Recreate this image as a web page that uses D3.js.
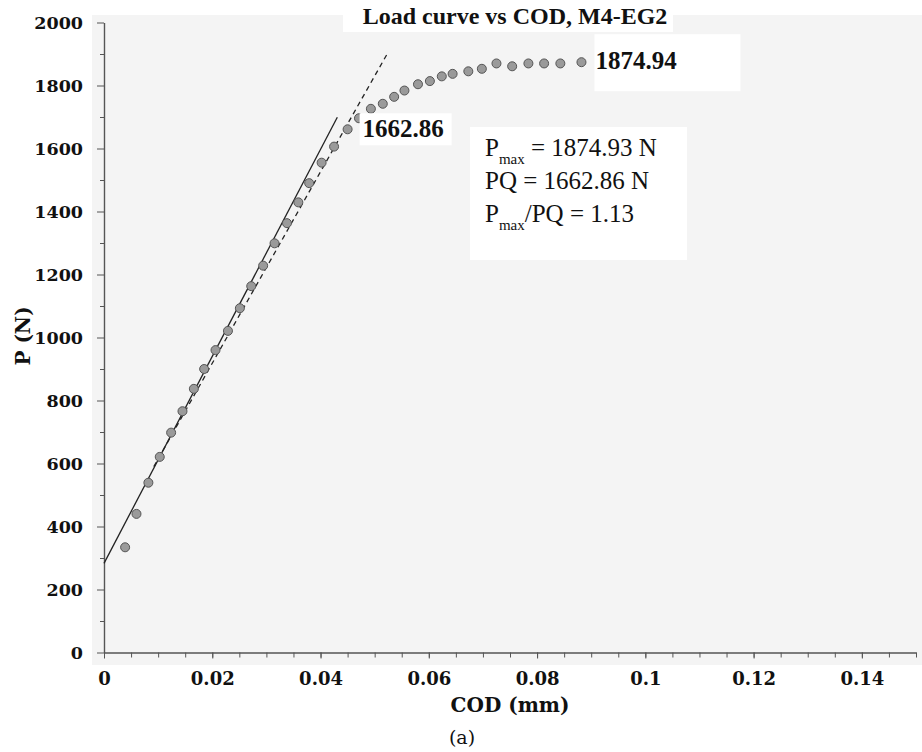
<!DOCTYPE html>
<html>
<head>
<meta charset="utf-8">
<script src="https://cdn.jsdelivr.net/npm/d3@7"></script>
<style>
  body { margin: 0; background: #fff; }
  svg { display: block; }
</style>
</head>
<body>
<svg id="chart" width="922" height="752"></svg>
<script>
// ---- data ----
const codValues = [0.0039, 0.0060, 0.0082, 0.0103, 0.0124, 0.0145, 0.0166, 0.0185, 0.0206, 0.0229,
                   0.0251, 0.0272, 0.0294, 0.0315, 0.0338, 0.0359, 0.0379, 0.0402, 0.0425, 0.0450,
                   0.0471, 0.0493, 0.0515, 0.0536, 0.0555, 0.0580, 0.0602, 0.0624, 0.0644, 0.0673,
                   0.0698, 0.0725, 0.0754, 0.0784, 0.0813, 0.0843, 0.0882];
const loadValues = [334, 440, 539, 621, 698, 766, 837, 900, 960, 1021,
                    1093, 1163, 1228, 1299, 1363, 1429, 1490, 1555, 1606, 1661,
                    1696, 1726, 1742, 1764, 1784, 1804, 1814, 1829, 1837, 1845,
                    1853, 1870, 1861, 1870, 1870, 1870, 1874];
const solidFitX = [0, 0.0431];
const solidFitY = [283, 1699];
const dashedFitX = [0.0092, 0.0522];
const dashedFitY = [590, 1897];
const xTicks = [0, 0.02, 0.04, 0.06, 0.08, 0.1, 0.12, 0.14];
const xTickLabels = ["0", "0.02", "0.04", "0.06", "0.08", "0.1", "0.12", "0.14"];
const yTicks = [0, 200, 400, 600, 800, 1000, 1200, 1400, 1600, 1800, 2000];
const labelPQ = { x: 0.045, y: 1661, text: "1662.86" };
const labelPmax = { x: 0.0882, y: 1874, text: "1874.94" };
const titleText = "Load curve vs COD, M4-EG2";
const xTitle = "COD (mm)";
const yTitle = "P (N)";
const captionText = "(a)";

// ---- layout ----
const svg = d3.select("#chart");
const x = d3.scaleLinear().domain([0, 0.15]).range([104, 916]);
const y = d3.scaleLinear().domain([0, 2000]).range([652.5, 22.5]);
const serif = "'Liberation Serif', 'Times New Roman', serif";
const axisFont = "'DejaVu Serif', serif";

// plot background
svg.append("rect").attr("x", 92).attr("y", 15).attr("width", 830).attr("height", 650)
  .attr("fill", "#f4f4f4");

// title with white box
svg.append("rect").attr("x", 343).attr("y", 0).attr("width", 330).attr("height", 32).attr("fill", "#fff");
svg.append("text").attr("x", 515).attr("y", 24).attr("text-anchor", "middle")
  .attr("font-family", serif).attr("font-size", 24).attr("font-weight", "bold")
  .attr("fill", "#111").text(titleText);

// axes
const xAxis = d3.axisBottom(x).tickValues(xTicks).tickFormat((d, i) => xTickLabels[i])
  .tickSize(6).tickSizeOuter(0).tickPadding(8);
const xMinor = d3.axisBottom(x).tickValues(d3.range(0, 0.1501, 0.005)).tickFormat("").tickSize(5).tickSizeOuter(0);
const yAxis = d3.axisLeft(y).tickValues(yTicks).tickFormat(d3.format("d"))
  .tickSize(7).tickSizeOuter(0).tickPadding(14);
const yMinor = d3.axisLeft(y).tickValues(d3.range(100, 2000, 200)).tickFormat("").tickSize(4).tickSizeOuter(0);

const gx = svg.append("g").attr("transform", `translate(0,${y(0)})`).call(xAxis);
svg.append("g").attr("transform", `translate(0,${y(0)})`).call(xMinor);
const gy = svg.append("g").attr("transform", `translate(${x(0)},0)`).call(yAxis);
svg.append("g").attr("transform", `translate(${x(0)},0)`).call(yMinor);

svg.selectAll(".domain").attr("stroke", "#555").attr("stroke-width", 1.2);
svg.selectAll(".tick line").attr("stroke", "#555").attr("stroke-width", 1);
svg.selectAll(".tick text").attr("font-family", axisFont).attr("font-size", 18)
  .attr("font-weight", "bold").attr("fill", "#111");
gx.selectAll(".tick text").attr("dy", "1.03em");
gy.selectAll(".tick text").attr("dy", "0.35em").attr("font-size", 17.5);

// axis titles
svg.append("text").attr("x", 510).attr("y", 712).attr("text-anchor", "middle")
  .attr("font-family", axisFont).attr("font-size", 20).attr("font-weight", "bold").attr("fill", "#111").text(xTitle);
svg.append("text").attr("transform", "translate(30,336) rotate(-90)").attr("text-anchor", "middle")
  .attr("font-family", axisFont).attr("font-size", 20).attr("font-weight", "bold").attr("fill", "#111").text(yTitle);
svg.append("text").attr("x", 462).attr("y", 744).attr("text-anchor", "middle")
  .attr("font-family", axisFont).attr("font-size", 19).attr("fill", "#111").text(captionText);

// fit lines
const line = d3.line().x(d => x(d[0])).y(d => y(d[1]));
svg.append("path").datum(d3.zip(solidFitX, solidFitY)).attr("d", line)
  .attr("fill", "none").attr("stroke", "#222").attr("stroke-width", 1.3);
svg.append("path").datum(d3.zip(dashedFitX, dashedFitY)).attr("d", line)
  .attr("fill", "none").attr("stroke", "#222").attr("stroke-width", 1.3).attr("stroke-dasharray", "5,4");

// points
svg.append("g").selectAll("circle").data(d3.zip(codValues, loadValues)).join("circle")
  .attr("cx", d => x(d[0])).attr("cy", d => y(d[1])).attr("r", 4.5)
  .attr("fill", "#9a9a9a").attr("stroke", "#555").attr("stroke-width", 1);

// point labels
function pointLabel(lbl, dx, dy, bx, bw, bh, by) {
  const px = x(lbl.x) + dx, py = y(lbl.y) + dy;
  svg.append("rect").attr("x", px - bx).attr("y", py - by).attr("width", bw).attr("height", bh).attr("fill", "#fff");
  svg.append("text").attr("x", px).attr("y", py).attr("font-family", serif).attr("font-size", 25)
    .attr("font-weight", "bold").attr("fill", "#111").text(lbl.text);
}
pointLabel(labelPQ, 15, 8, 3, 92, 32, 24);
pointLabel(labelPmax, 14, 7, 1, 146, 57, 35);

// info box
svg.append("rect").attr("x", 470).attr("y", 127).attr("width", 217).attr("height", 133).attr("fill", "#fff");
const info = svg.append("g").attr("font-family", serif).attr("font-size", 25).attr("fill", "#111");
const t1 = info.append("text").attr("x", 485).attr("y", 156);
t1.append("tspan").text("P");
t1.append("tspan").attr("font-size", 15).attr("dy", 8).text("max");
t1.append("tspan").attr("dy", -8).text(" = 1874.93 N");
info.append("text").attr("x", 485).attr("y", 189).text("PQ = 1662.86 N");
const t3 = info.append("text").attr("x", 485).attr("y", 222);
t3.append("tspan").text("P");
t3.append("tspan").attr("font-size", 15).attr("dy", 8).text("max");
t3.append("tspan").attr("dy", -8).text("/PQ = 1.13");
</script>
</body>
</html>
